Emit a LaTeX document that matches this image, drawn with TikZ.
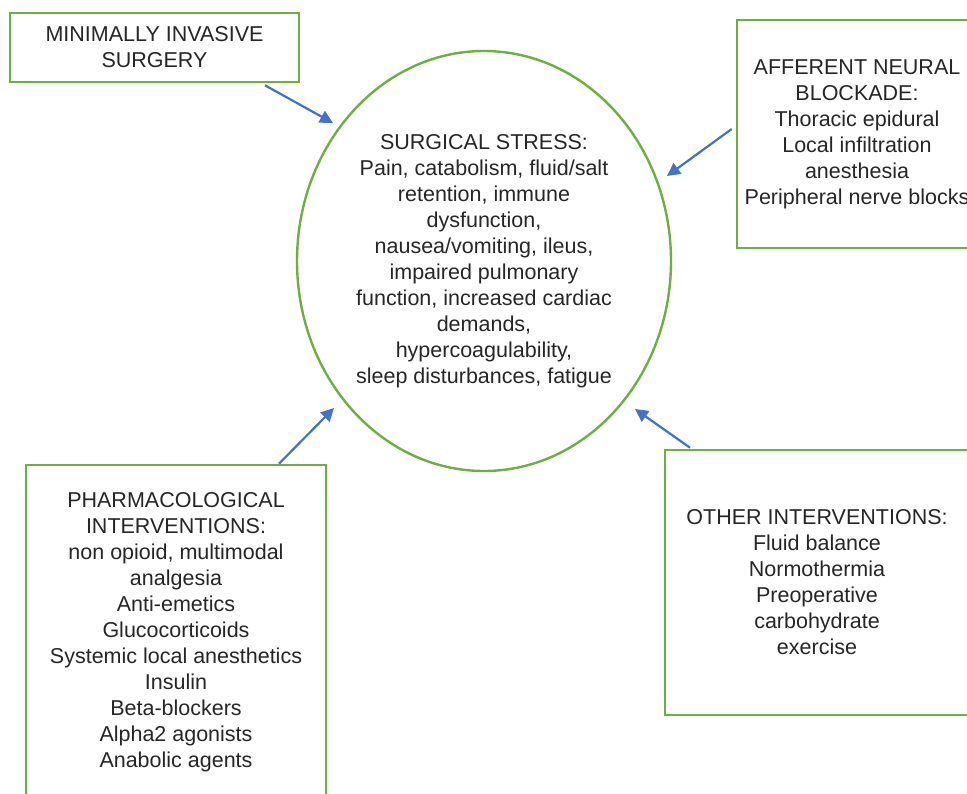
\documentclass[tikz,border=0pt]{standalone}
\usepackage{fontspec}
\setmainfont{Liberation Sans}
\usetikzlibrary{shapes.geometric,arrows.meta}
\definecolor{boxgreen}{HTML}{70AD47}
\definecolor{arrowblue}{HTML}{4472C4}
\definecolor{txtgray}{HTML}{262626}
\tikzset{
  box/.style={draw=boxgreen, line width=2.6pt, align=center, inner sep=0pt, text=txtgray},
  stressell/.style={ellipse, draw=boxgreen, line width=2.4pt, align=center, inner sep=0pt, text=txtgray},
  arr/.style={draw=arrowblue, line width=2.2pt, -{Triangle[length=13pt,width=13pt]}},
}
\begin{document}
\begin{tikzpicture}[x=1pt,y=-1pt,font=\fontsize{21.5}{26}\selectfont]
  \useasboundingbox (0,0) rectangle (967,793);
  \clip (0,0) rectangle (967,793);
  % centre
  \node[stressell, minimum width=374pt, minimum height=420pt] (stress) at (484,261)
    {SURGICAL STRESS:\\Pain, catabolism, fluid/salt\\retention, immune\\dysfunction,\\nausea/vomiting, ileus,\\impaired pulmonary\\function, increased cardiac\\demands,\\hypercoagulability,\\sleep disturbances, fatigue};
  % boxes
  \node[box, minimum width=289pt, minimum height=69pt] (mis) at (154.5,47.5)
    {MINIMALLY INVASIVE\\SURGERY};
  \node[box, minimum width=240pt, minimum height=228pt] (aff) at (857,134)
    {AFFERENT NEURAL\\BLOCKADE:\\Thoracic epidural\\Local infiltration\\anesthesia\\Peripheral nerve blocks};
  \node[box, minimum width=300pt, minimum height=335pt] (pharm) at (176,632.5)
    {PHARMACOLOGICAL\\INTERVENTIONS:\\non opioid, multimodal\\analgesia\\Anti-emetics\\Glucocorticoids\\Systemic local anesthetics\\Insulin\\Beta-blockers\\Alpha2 agonists\\Anabolic agents};
  \node[box, minimum width=304pt, minimum height=265pt] (other) at (817,582.5)
    {OTHER INTERVENTIONS:\\Fluid balance\\Normothermia\\Preoperative\\carbohydrate\\exercise};
  % arrow ends at the ellipse
  \coordinate (tipmis) at (333,123);
  \coordinate (tipaff) at (667,176);
  \coordinate (tippharm) at (334,408);
  \coordinate (tipother) at (635,409);
  \begin{scope}[arr]
    \draw ([xshift=110.5pt,yshift=-2pt]mis.south) -- (tipmis);
    \draw ([xshift=-4pt,yshift=5pt]aff.west) -- (tipaff);
    \draw ([xshift=103pt]pharm.north) -- (tippharm);
    \draw ([xshift=-127pt,yshift=1pt]other.north) -- (tipother);
  \end{scope}
\end{tikzpicture}
\end{document}
